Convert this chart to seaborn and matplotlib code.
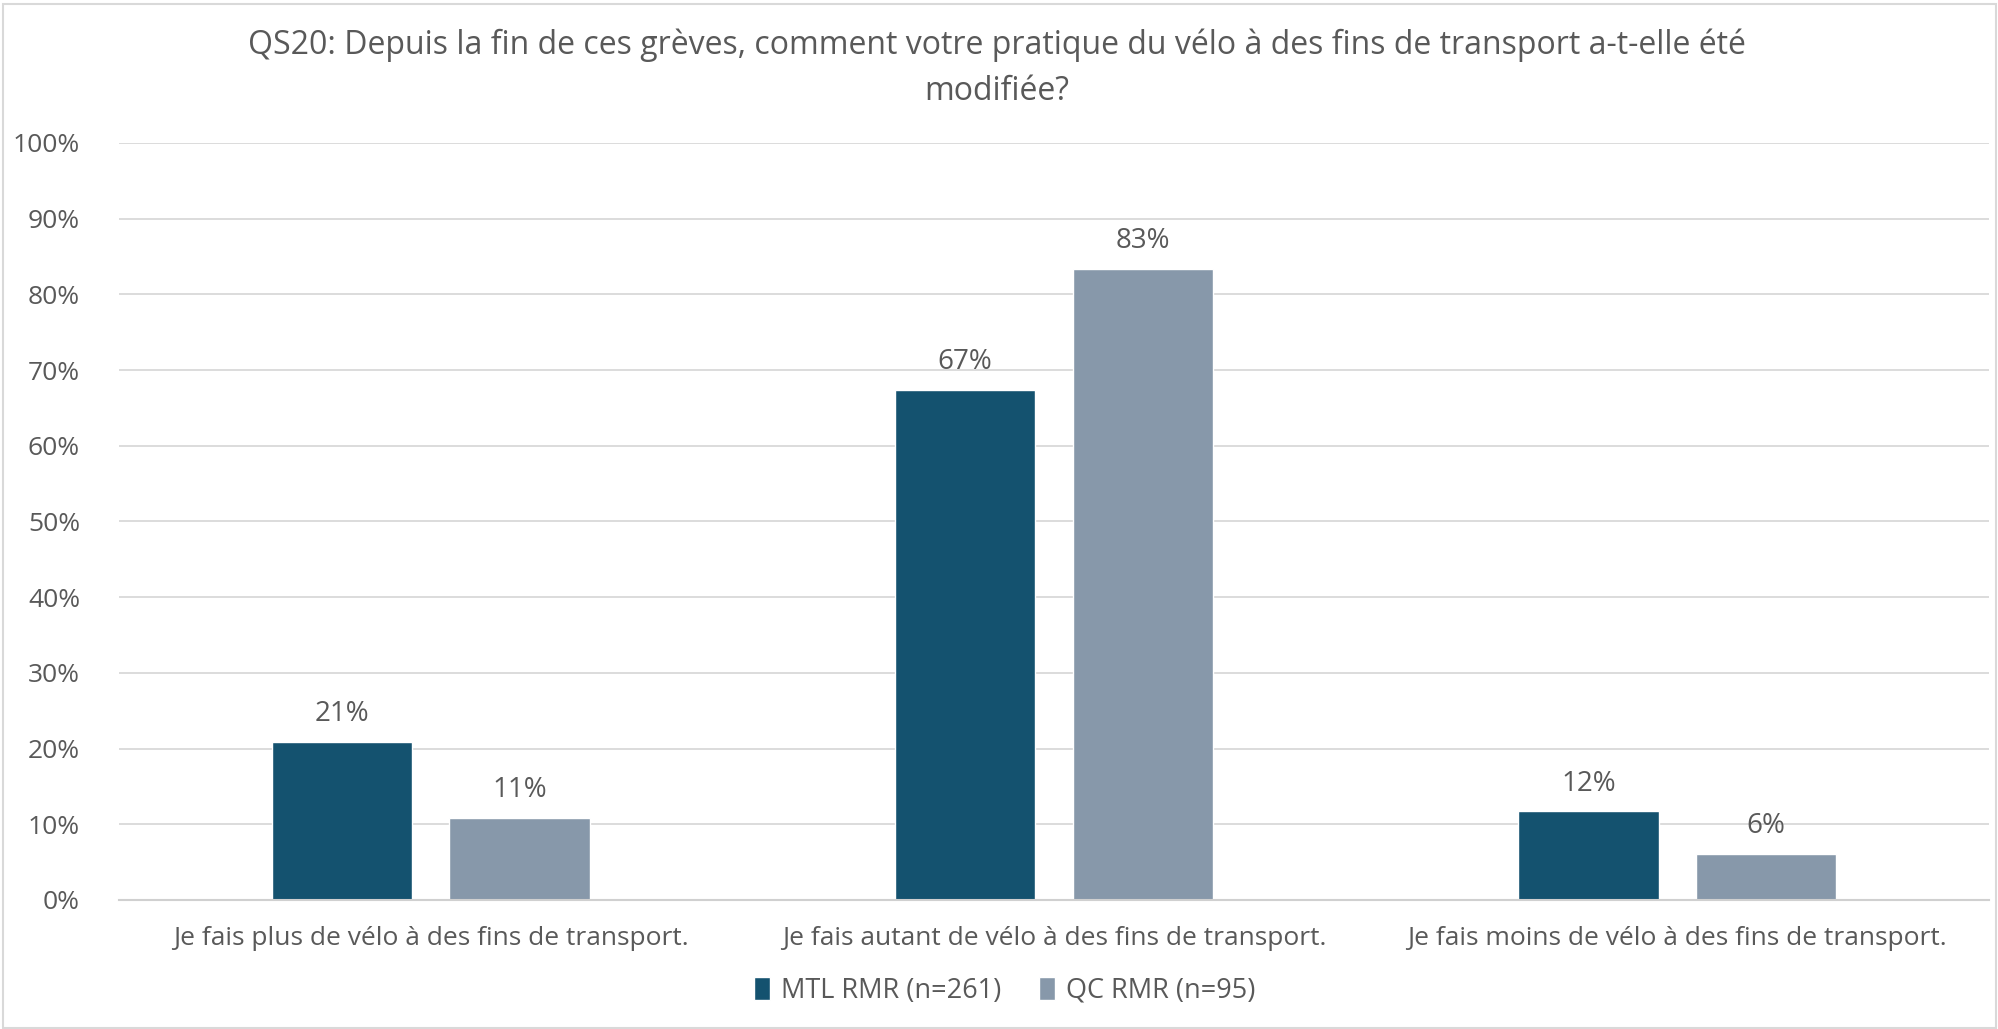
import matplotlib
matplotlib.use("Agg")
import matplotlib.pyplot as plt
import matplotlib.patches as mpatches
import seaborn as sns
import pandas as pd

# Survey answers and shares (%) per region
categories = [
    "Je fais plus de vélo à des fins de transport.",
    "Je fais autant de vélo à des fins de transport.",
    "Je fais moins de vélo à des fins de transport.",
]
series_names = ["MTL RMR (n=261)", "QC RMR (n=95)"]
mtl_values = [20.9, 67.4, 11.7]
qc_values = [10.8, 83.4, 6.1]
y_ticks = [0, 10, 20, 30, 40, 50, 60, 70, 80, 90, 100]
title = ("QS20: Depuis la fin de ces grèves, comment votre pratique du vélo à des fins de transport a-t-elle été\n"
         "modifiée?")

colors = ["#14526F", "#8798AA"]
text_color = "#595959"
grid_color = "#D9D9D9"

df = pd.DataFrame({
    "categorie": categories * 2,
    "serie": [series_names[0]] * 3 + [series_names[1]] * 3,
    "valeur": mtl_values + qc_values,
})

sns.set_theme(style="white")
plt.rcParams["font.family"] = ["Open Sans", "DejaVu Sans"]

fig = plt.figure(figsize=(19.99, 10.29), dpi=100)
ax = fig.add_axes([0.0595, 0.1254, 0.9355, 0.7357])

sns.barplot(data=df, x="categorie", y="valeur", hue="serie", order=categories,
            hue_order=series_names, palette=colors, width=0.57, gap=0.21,
            saturation=1, ax=ax, legend=True)

for container in ax.containers:
    ax.bar_label(container, labels=[f"{v:.0f}%" for v in container.datavalues],
                 padding=10, fontsize=20, color=text_color)

ax.set_ylim(0, 100)
ax.set_xlim(-0.5, 2.5)
ax.set_yticks(y_ticks)
ax.set_yticklabels([f"{t}%" for t in y_ticks])
ax.tick_params(axis="y", length=0, pad=28, labelsize=19, labelcolor=text_color)
ax.tick_params(axis="x", length=0, pad=19, labelsize=19, labelcolor=text_color)
ax.set_xlabel("")
ax.set_ylabel("")
ax.yaxis.grid(True, color=grid_color, linewidth=1.3)
ax.set_axisbelow(True)
for side in ["left", "right", "top"]:
    ax.spines[side].set_visible(False)
ax.spines["bottom"].set_color("#D0D0D0")
ax.spines["bottom"].set_linewidth(1.5)

handles, labels = ax.get_legend_handles_labels()
ax.legend_.remove()
fig.legend(handles, labels, loc="center", bbox_to_anchor=(0.5025, 0.037), ncol=2,
           frameon=False, fontsize=19.5, labelcolor=text_color, handlelength=0.6,
           handleheight=0.9, handletextpad=0.4, columnspacing=1.4)

fig.suptitle(title, x=0.4985, y=0.972, fontsize=23, color=text_color,
             va="top", linespacing=1.5)

fig.patches.append(mpatches.Rectangle((0.0015, 0.001), 0.997, 0.995, transform=fig.transFigure,
                                      fill=False, edgecolor="#D9D9D9", linewidth=1.5))

fig.savefig("out.png", dpi=100, facecolor="white")
